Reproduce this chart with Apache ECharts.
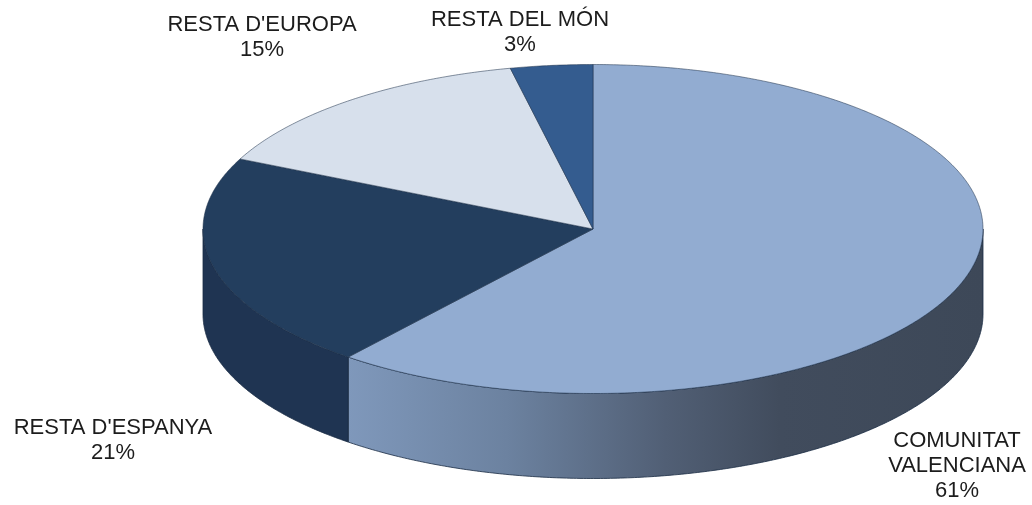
<!DOCTYPE html>
<html><head><meta charset="utf-8">
<style>html,body{margin:0;padding:0;background:#fff}#c{width:1032px;height:505px}</style>
<script src="https://cdn.jsdelivr.net/npm/echarts@6/dist/echarts.min.js"></script>
</head><body><div id="c"></div>
<script>
const categories = ['COMUNITAT\nVALENCIANA', "RESTA D'ESPANYA", "RESTA D'EUROPA", 'RESTA DEL MÓN'];
const shares = [60.8, 21.2, 14.6, 3.4];
const shownPercent = ['61%', '21%', '15%', '3%'];
const topColors = ['#92acd1', '#233e5e', '#d7e0ec', '#345c8f'];
const labelCenters = [[957, 466], [113, 440], [262, 37], [520, 32]];

const cx = 593, cy = 229, rx = 390, ry = 164.5, depth = 85;
const total = shares.reduce((a, b) => a + b, 0);
const pt = (deg, dy) => {
  const a = deg * Math.PI / 180;
  return [cx + rx * Math.sin(a), cy - ry * Math.cos(a) + (dy || 0)];
};
const arc = (from, to, dy) => {
  const n = Math.max(2, Math.ceil(Math.abs(to - from) * 2)), out = [];
  for (let i = 0; i <= n; i++) out.push(pt(from + (to - from) * i / n, dy));
  return out;
};
const wallFill = [
  { type: 'linear', global: true, x: 348, y: 0, x2: 983, y2: 0, colorStops: [
    { offset: 0, color: '#7f98bb' }, { offset: 0.25, color: '#6c82a0' },
    { offset: 0.5, color: '#515f75' }, { offset: 0.68, color: '#414c5d' }, { offset: 1, color: '#3d4858' } ] },
  '#1f3452', '#1f3452', '#1f3452'
];

function renderItem(params, api) {
  const i = params.dataIndex, value = api.value(0);
  let start = 0;
  for (let k = 0; k < i; k++) start += shares[k];
  const a0 = start / total * 360, a1 = a0 + value / total * 360;
  const children = [];
  const w0 = Math.max(a0, 90), w1 = Math.min(a1, 270);
  if (w1 > w0) {
    children.push({
      type: 'polygon', z2: 1,
      shape: { points: arc(w0, w1, 0).concat(arc(w1, w0, depth)) },
      style: { fill: wallFill[i], stroke: '#1b2c44', lineWidth: 0.8, lineJoin: 'round' }
    });
  }
  children.push({
    type: 'polygon', z2: 2,
    shape: { points: [[cx, cy]].concat(arc(a0, a1, 0)) },
    style: { fill: topColors[i], stroke: '#1d3048', lineWidth: 0.7, strokeOpacity: 0.75, lineJoin: 'round' }
  });
  children.push({
    type: 'text', z2: 3,
    style: {
      text: categories[i] + '\n' + shownPercent[i],
      x: labelCenters[i][0], y: labelCenters[i][1],
      align: 'center', verticalAlign: 'middle',
      fill: '#1c1c1c', font: '22px "Liberation Sans", Arial, sans-serif', lineHeight: 25
    }
  });
  return { type: 'group', children };
}

const chart = echarts.init(document.getElementById('c'), null, { renderer: 'canvas' });
chart.setOption({
  animation: false,
  backgroundColor: '#ffffff',
  series: [{
    type: 'custom', coordinateSystem: 'none', renderItem,
    data: shares.map((v, i) => ({ name: categories[i], value: [v] }))
  }]
});
</script></body></html>
